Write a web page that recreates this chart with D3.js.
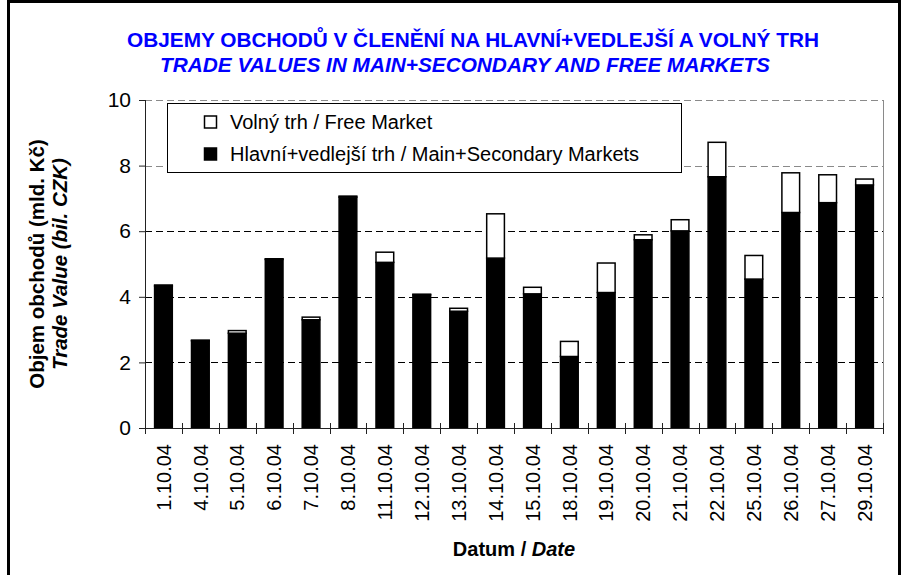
<!DOCTYPE html>
<html>
<head>
<meta charset="utf-8">
<script src="https://cdn.jsdelivr.net/npm/d3@7"></script>
<style>
    body { margin: 0; background: #fff; }
    svg { display: block; font-family: "Liberation Sans", Arial, sans-serif; }
    .axis path, .axis line { stroke: #222; }
</style>
</head>
<body>
<div id="graphDiv"></div>
<script>
// data //
var dates = ["1.10.04", "4.10.04", "5.10.04", "6.10.04", "7.10.04", "8.10.04", "11.10.04", "12.10.04",
    "13.10.04", "14.10.04", "15.10.04", "18.10.04", "19.10.04", "20.10.04", "21.10.04", "22.10.04",
    "25.10.04", "26.10.04", "27.10.04", "29.10.04"];
// Hlavní+vedlejší trh / Main+Secondary Markets (bil. CZK)
var mainMarket = [4.33, 2.66, 2.89, 5.14, 3.30, 7.04, 5.05, 4.06, 3.56, 5.18,
    4.09, 2.18, 4.13, 5.74, 6.01, 7.66, 4.54, 6.57, 6.87, 7.41];
// Volný trh / Free Market (bil. CZK)
var freeMarket = [0.03, 0.02, 0.08, 0.02, 0.08, 0.03, 0.31, 0.02, 0.09, 1.35,
    0.20, 0.46, 0.90, 0.15, 0.34, 1.05, 0.72, 1.21, 0.85, 0.18];
var yTicks = [0, 2, 4, 6, 8, 10];

var titleLines = ["OBJEMY OBCHODŮ V ČLENĚNÍ NA HLAVNÍ+VEDLEJŠÍ A VOLNÝ TRH",
    "TRADE VALUES IN MAIN+SECONDARY AND FREE MARKETS"];
var legendLabels = ["Volný trh / Free Market", "Hlavní+vedlejší trh / Main+Secondary Markets"];

var W = 905, H = 575;
var plot = {left: 145, right: 883, top: 100, bottom: 428};

var svg = d3.select("#graphDiv").append("svg")
    .attr("width", W)
    .attr("height", H);

// outer frame (bottom runs off the picture)
svg.append("rect")
    .attr("x", 8.5).attr("y", 1.5)
    .attr("width", 891).attr("height", 620)
    .attr("fill", "none")
    .attr("stroke", "#000")
    .attr("stroke-width", 3);

// scales
var xScale = d3.scaleBand()
    .domain(dates)
    .range([plot.left, plot.right])
    .paddingInner(0.52)
    .paddingOuter(0.26);
var yScale = d3.scaleLinear()
    .domain([0, 10])
    .range([plot.bottom, plot.top]);

// gridlines
svg.append("g").attr("class", "grid")
    .selectAll("line")
    .data(yTicks.filter(function (d) { return d > 0; }))
    .enter().append("line")
    .attr("x1", plot.left).attr("x2", plot.right)
    .attr("y1", function (d) { return Math.round(yScale(d)) + 0.5; })
    .attr("y2", function (d) { return Math.round(yScale(d)) + 0.5; })
    .attr("stroke", function (d) { return d >= 8 ? "#8a8a8a" : "#000"; })
    .attr("stroke-width", 1)
    .attr("stroke-dasharray", "7,4");

// right border of plot area
svg.append("line")
    .attr("x1", plot.right + 0.5).attr("x2", plot.right + 0.5)
    .attr("y1", plot.top).attr("y2", plot.bottom)
    .attr("stroke", "#8a8a8a");

// stacked bars
var rows = dates.map(function (d, i) {
    return {date: d, main: mainMarket[i], free: freeMarket[i]};
});
var bars = svg.append("g").attr("class", "bars");
bars.selectAll("rect.main")
    .data(rows)
    .enter().append("rect")
    .attr("class", "main")
    .attr("x", function (d) { return xScale(d.date); })
    .attr("width", xScale.bandwidth())
    .attr("y", function (d) { return yScale(d.main); })
    .attr("height", function (d) { return yScale(0) - yScale(d.main); })
    .attr("fill", "#000")
    .attr("stroke", "#000")
    .attr("stroke-width", 1.5);
bars.selectAll("rect.free")
    .data(rows)
    .enter().append("rect")
    .attr("class", "free")
    .attr("x", function (d) { return xScale(d.date); })
    .attr("width", xScale.bandwidth())
    .attr("y", function (d) { return yScale(d.main + d.free); })
    .attr("height", function (d) { return yScale(d.main) - yScale(d.main + d.free); })
    .attr("fill", "#fff")
    .attr("stroke", "#000")
    .attr("stroke-width", 1.5);

// y axis
var yAxis = d3.axisLeft(yScale).tickValues(yTicks).tickSize(6).tickPadding(8);
svg.append("g")
    .attr("class", "y axis")
    .attr("transform", "translate(" + plot.left + ",0)")
    .call(yAxis)
    .attr("font-family", null)
    .attr("font-size", null)
    .call(function (g) {
        g.select(".domain").attr("d", "M0.5," + plot.top + "V" + plot.bottom);
        g.selectAll("text").attr("font-size", "21px").attr("fill", "#000");
    });

// x axis: labels under each bar, tick marks between categories
var xAxis = d3.axisBottom(xScale).tickSize(0).tickPadding(0);
var xg = svg.append("g")
    .attr("class", "x axis")
    .attr("transform", "translate(0," + plot.bottom + ")")
    .call(xAxis)
    .attr("font-family", null)
    .attr("font-size", null);
xg.select(".domain").attr("d", "M" + plot.left + ",0.5H" + plot.right);
xg.selectAll(".tick text")
    .attr("font-size", "20px")
    .attr("fill", "#000")
    .attr("text-anchor", "end")
    .attr("transform", "translate(0,16) rotate(-90)")
    .attr("x", 0).attr("y", 0)
    .attr("dy", "0.36em");
var step = xScale.step();
xg.selectAll("line.sep")
    .data(d3.range(dates.length + 1))
    .enter().append("line")
    .attr("class", "sep")
    .attr("x1", function (i) { return Math.round(plot.left + i * step) + 0.5; })
    .attr("x2", function (i) { return Math.round(plot.left + i * step) + 0.5; })
    .attr("y1", -5).attr("y2", 6);

// axis titles
var yTitle = svg.append("g")
    .attr("transform", "translate(0," + ((plot.top + plot.bottom) / 2) + ") rotate(-90)")
    .attr("font-size", "20.5px")
    .attr("font-weight", "bold")
    .attr("text-anchor", "middle");
yTitle.append("text").attr("x", 0).attr("y", 44).text("Objem obchodů (mld. Kč)");
yTitle.append("text").attr("x", 0).attr("y", 67).attr("font-style", "italic").text("Trade Value (bil. CZK)");

var xTitle = svg.append("text")
    .attr("x", (plot.left + plot.right) / 2)
    .attr("y", 556)
    .attr("text-anchor", "middle")
    .attr("font-size", "20px")
    .attr("font-weight", "bold");
xTitle.append("tspan").text("Datum / ");
xTitle.append("tspan").attr("font-style", "italic").text("Date");

// chart title
svg.append("text")
    .attr("x", 473).attr("y", 47)
    .attr("text-anchor", "middle")
    .attr("font-size", "20.8px")
    .attr("font-weight", "bold")
    .attr("fill", "#0000ff")
    .text(titleLines[0]);
svg.append("text")
    .attr("x", 465).attr("y", 72)
    .attr("text-anchor", "middle")
    .attr("font-size", "20.8px")
    .attr("font-weight", "bold")
    .attr("font-style", "italic")
    .attr("fill", "#0000ff")
    .text(titleLines[1]);

// legend
var legend = svg.append("g").attr("class", "legend");
legend.append("rect")
    .attr("x", 167.5).attr("y", 103.5)
    .attr("width", 514).attr("height", 69)
    .attr("fill", "#fff")
    .attr("stroke", "#000");
var items = legend.selectAll("g.item")
    .data(legendLabels)
    .enter().append("g")
    .attr("class", "item")
    .attr("transform", function (d, i) { return "translate(204," + (122 + i * 32) + ")"; });
items.append("rect")
    .attr("x", 0.5).attr("y", -6)
    .attr("width", 12).attr("height", 12)
    .attr("fill", function (d, i) { return i == 0 ? "#fff" : "#000"; })
    .attr("stroke", "#000")
    .attr("stroke-width", 1.5);
items.append("text")
    .attr("x", 26).attr("y", 0)
    .attr("dy", "0.35em")
    .attr("font-size", "20px")
    .text(function (d) { return d; });
</script>
</body>
</html>
